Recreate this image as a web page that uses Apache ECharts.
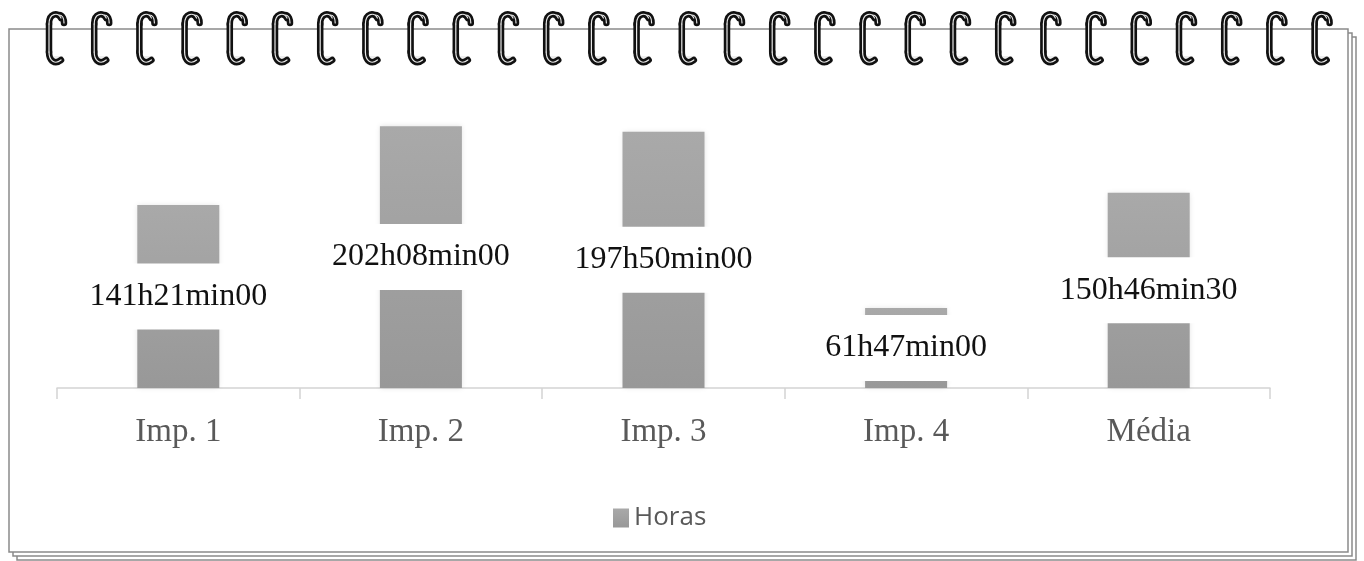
<!DOCTYPE html>
<html>
<head>
<meta charset="utf-8">
<script src="https://cdn.jsdelivr.net/npm/echarts@6/dist/echarts.min.js"></script>
<style>
html,body{margin:0;padding:0;background:#fff;}
#chart{width:1364px;height:561px;}
</style>
</head>
<body>
<div id="chart"></div>
<script>
const categories = ['Imp. 1', 'Imp. 2', 'Imp. 3', 'Imp. 4', 'Média'];
const hours = [141.35, 202.13, 197.83, 61.78, 150.78];
const valueLabels = ['141h21min00', '202h08min00', '197h50min00', '61h47min00', '150h46min30'];
const seriesName = 'Horas';

const chart = echarts.init(document.getElementById('chart'));

// decorative notepad frame and spiral rings
const deco = [];
const frames = [[17, 37], [13, 33], [9, 29]];
frames.forEach((f, i) => {
  deco.push({
    type: 'rect', z: i - 10, silent: true,
    shape: { x: f[0], y: f[1], width: 1339, height: 523 },
    style: { fill: '#fff', stroke: '#8a8a8a', lineWidth: 1.5 }
  });
});
const ringSegs = [
  { type: 'bezierCurve', shape: { x1: 13, y1: 6, cpx1: 10, cpy1: 0, cpx2: 1, cpy2: 1, x2: 1, y2: 12 } },
  { type: 'line', shape: { x1: 1, y1: 12, x2: 1, y2: 40 } },
  { type: 'bezierCurve', shape: { x1: 1, y1: 40, cpx1: 1, cpy1: 49, cpx2: 7, cpy2: 53, x2: 13, y2: 48 } },
  { type: 'bezierCurve', shape: { x1: 11, y1: 3, cpx1: 15, cpy1: 3, cpx2: 16, cpy2: 8, x2: 16, y2: 11 } }
];
for (let i = 0; i < 29; i++) {
  const x0 = 48 + i * 45.2;
  deco.push({
    type: 'rect', z: 90, silent: true,
    shape: { x: x0 + 1, y: 56, width: 14, height: 8 },
    style: { fill: 'rgba(0,0,0,0.07)' }
  });
  ringSegs.forEach(s => {
    deco.push({
      type: s.type, z: 100, silent: true, x: x0, y: 12,
      shape: Object.assign({}, s.shape),
      style: { fill: 'none', stroke: '#111', lineWidth: 6.5, lineCap: 'round' }
    });
  });
  ringSegs.forEach(s => {
    deco.push({
      type: s.type, z: 101, silent: true, x: x0, y: 12,
      shape: Object.assign({}, s.shape),
      style: { fill: 'none', stroke: '#e8e8e8', lineWidth: 1.2, lineCap: 'round' }
    });
  });
}

chart.setOption({
  animation: false,
  backgroundColor: '#fff',
  graphic: { elements: deco },
  grid: { left: 57, right: 94, top: 103, bottom: 173, containLabel: false },
  legend: {
    data: [seriesName],
    left: 608, top: 500,
    itemWidth: 16, itemHeight: 19, itemGap: 9,
    icon: 'rect',
    textStyle: { fontFamily: 'Open Sans', fontSize: 26, color: '#595959' }
  },
  xAxis: {
    type: 'category',
    data: categories,
    axisLine: { lineStyle: { color: '#d4d4d4', width: 1.5 } },
    axisTick: { show: true, length: 11, lineStyle: { color: '#d4d4d4', width: 1.5 } },
    axisLabel: { fontFamily: 'Liberation Serif', fontSize: 33, color: '#595959', margin: 28 }
  },
  yAxis: { type: 'value', min: 0, max: 220, show: false },
  series: [{
    name: seriesName,
    type: 'bar',
    data: hours,
    barWidth: 82,
    itemStyle: {
      color: new echarts.graphic.LinearGradient(0, 0, 0, 1, [
        { offset: 0, color: '#a9a9a9' },
        { offset: 1, color: '#989898' }
      ]),
      shadowBlur: 5, shadowColor: 'rgba(0,0,0,0.12)'
    },
    label: {
      show: true,
      position: 'inside',
      formatter: p => valueLabels[p.dataIndex],
      fontFamily: 'Liberation Serif',
      fontSize: 32,
      color: '#111',
      backgroundColor: '#fff',
      padding: [27, 4, 7, 4]
    }
  }]
});
</script>
</body>
</html>
